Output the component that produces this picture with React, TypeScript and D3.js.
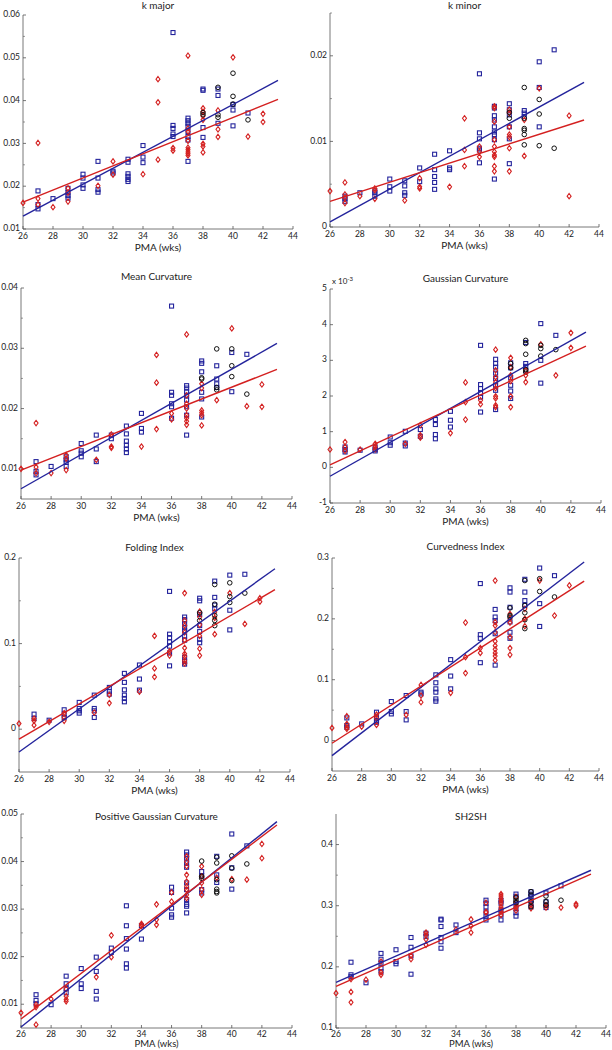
import React from 'react';
import * as d3 from 'd3';

type Group = [number, number[]];

// x axis (weeks) shared by every panel
const weekTicks = [26, 28, 30, 32, 34, 36, 38, 40, 42, 44];
const fitWeeks = [26, 43];

// ---- k major ----
const kMajorBlue: Group[] = [
  [27, [0.0189, 0.0157, 0.0147]], [28, [0.0171]], [29, [0.0195, 0.0185, 0.0178, 0.0172]],
  [30, [0.0228, 0.0219, 0.0203, 0.0195]], [31, [0.0258, 0.0219, 0.0192, 0.0186]], [32, [0.0235, 0.0231]],
  [33, [0.0263, 0.0256, 0.0229, 0.0223, 0.0216, 0.0211]], [34, [0.0295, 0.0268, 0.0255]],
  [36, [0.0559, 0.0342, 0.0335, 0.0322, 0.0316]],
  [37, [0.0359, 0.0353, 0.0347, 0.034, 0.0328, 0.0316, 0.0308, 0.0258]],
  [38, [0.0427, 0.0424, 0.0337, 0.0314]], [39, [0.0427, 0.0412, 0.0347]], [40, [0.0391, 0.0378, 0.0341]], [41, [0.0371]],
];
const kMajorRed: Group[] = [
  [26, [0.0161]], [27, [0.0301, 0.0171, 0.0157]], [28, [0.0151]], [29, [0.0195, 0.0185, 0.0164]],
  [31, [0.0201]], [32, [0.0258, 0.0227]], [34, [0.0228]], [35, [0.045, 0.0396, 0.0262]], [36, [0.0289, 0.0283]],
  [37, [0.0505, 0.0335, 0.0328, 0.0306, 0.029, 0.0285, 0.028, 0.0276, 0.0272]],
  [38, [0.0382, 0.0374, 0.0364, 0.0355, 0.0299, 0.0293, 0.0279]], [39, [0.0377, 0.0333, 0.0315]],
  [40, [0.0501]], [41, [0.0316]], [42, [0.0369, 0.035]],
];
const kMajorBlack: Group[] = [
  [38, [0.0372, 0.0367]], [39, [0.0431, 0.0367, 0.0361]], [40, [0.0464, 0.041, 0.0392]], [41, [0.0355]],
];
const kMajorBlueFit = [0.013, 0.0447];
const kMajorRedFit = [0.0163, 0.0403];

// ---- k minor ----
const kMinorBlue: Group[] = [
  [27, [0.0036, 0.0033, 0.003]], [28, [0.004]], [29, [0.0042, 0.004, 0.0036]], [30, [0.0056, 0.0047, 0.0042]],
  [31, [0.0054, 0.0048, 0.004, 0.0037]], [32, [0.0069, 0.0053]], [33, [0.0085, 0.0067, 0.0059, 0.0052, 0.0044]],
  [34, [0.0089, 0.0069, 0.0067]], [36, [0.0179, 0.011, 0.0103, 0.0092, 0.009, 0.0075]],
  [37, [0.0141, 0.0139, 0.013, 0.0125, 0.0117, 0.0111, 0.0108, 0.0102, 0.0056]],
  [38, [0.0144, 0.0137, 0.0131, 0.0117, 0.0103, 0.0074]], [39, [0.0136, 0.0133, 0.0129]],
  [40, [0.0193, 0.0163, 0.0117]], [41, [0.0207]],
];
const kMinorRed: Group[] = [
  [26, [0.0042]], [27, [0.0052, 0.0038, 0.0034, 0.0028]], [28, [0.0036]], [29, [0.0045, 0.0043, 0.0033]],
  [31, [0.0031]], [32, [0.0057, 0.0047, 0.0045]], [34, [0.0047]], [35, [0.0127, 0.009, 0.0071]],
  [36, [0.0094, 0.0088, 0.0082]],
  [37, [0.0141, 0.0139, 0.0123, 0.0102, 0.0094, 0.0088, 0.0084, 0.0082, 0.0071, 0.0065]],
  [38, [0.0137, 0.0133, 0.0117, 0.0108, 0.0105, 0.0092, 0.0065]], [39, [0.0125, 0.0083]],
  [40, [0.0162]], [42, [0.013, 0.0036]],
];
const kMinorBlack: Group[] = [
  [38, [0.0134, 0.0127]], [39, [0.0163, 0.0127, 0.0115, 0.0113, 0.0108, 0.0096]],
  [40, [0.0149, 0.0132, 0.0095]], [41, [0.0092]],
];
const kMinorBlueFit = [0.0006, 0.0169];
const kMinorRedFit = [0.003, 0.0125];

// ---- Mean Curvature ----
const meanBlue: Group[] = [
  [27, [0.0112, 0.0096, 0.009]], [28, [0.0104]], [29, [0.012, 0.0115, 0.0111, 0.0104]],
  [30, [0.0142, 0.013, 0.0126, 0.012]], [31, [0.0156, 0.0133, 0.0112]], [32, [0.0156, 0.015]],
  [33, [0.0171, 0.0158, 0.0146, 0.0139, 0.0133, 0.0127]], [34, [0.0192, 0.0167, 0.0161]],
  [36, [0.037, 0.0227, 0.0222, 0.0208, 0.0203, 0.0184]],
  [37, [0.0238, 0.0234, 0.0228, 0.0222, 0.0214, 0.0203, 0.0189, 0.0156]],
  [38, [0.0279, 0.0275, 0.0261, 0.0227, 0.0216, 0.0186]], [39, [0.0271, 0.0249, 0.0241, 0.0235]],
  [40, [0.0293, 0.0228]], [41, [0.029]],
];
const meanRed: Group[] = [
  [26, [0.01]], [27, [0.0176, 0.0103, 0.0093]], [28, [0.0093]], [29, [0.0123, 0.0117, 0.0098]],
  [31, [0.0115]], [32, [0.0157, 0.0137, 0.0135]], [34, [0.0137]], [35, [0.0289, 0.0243, 0.0166]],
  [36, [0.0192, 0.0182]], [37, [0.0323, 0.0222, 0.0208, 0.02, 0.0189, 0.0184, 0.0179, 0.0173]],
  [38, [0.0241, 0.0234, 0.0197, 0.0193, 0.0189, 0.0172]], [39, [0.0214]], [40, [0.0333]],
  [41, [0.0204]], [42, [0.024, 0.0203]],
];
const meanBlack: Group[] = [
  [38, [0.0251, 0.0249]], [39, [0.0299, 0.0235, 0.0231]], [40, [0.0299, 0.0271, 0.0253]], [41, [0.0224]],
];
const meanBlueFit = [0.0067, 0.0308];
const meanRedFit = [0.0098, 0.0265];

// ---- Gaussian Curvature (x 10^-3) ----
const gaussBlue: Group[] = [
  [27, [0.57, 0.5, 0.43]], [28, [0.48]], [29, [0.57, 0.5, 0.46]], [30, [0.85, 0.69, 0.62]],
  [31, [1.01, 0.68, 0.6]], [32, [1.06, 0.87]], [33, [1.34, 1.2, 0.92, 0.8]], [34, [1.57, 1.32, 1.13]],
  [36, [3.42, 2.32, 2.21, 2.07, 1.97, 1.55]], [37, [3.03, 2.91, 2.81, 2.64, 2.49, 2.3, 2.16, 1.62]],
  [38, [2.93, 2.79, 2.51, 2.3, 2.14, 1.93]], [39, [3.5, 2.91, 2.83, 2.72]], [40, [4.03, 3.0, 2.36]], [41, [3.7]],
];
const gaussRed: Group[] = [
  [26, [0.5]], [27, [0.71, 0.57, 0.46]], [28, [0.5]], [29, [0.66, 0.57, 0.5]], [31, [0.66]],
  [32, [1.18, 0.9, 0.83]], [34, [0.96]], [35, [2.38, 1.83, 1.34]], [36, [1.88, 1.77]],
  [37, [3.3, 2.72, 2.53, 2.39, 2.22, 1.99, 1.93, 1.74, 1.69]], [38, [3.07, 2.81, 2.58, 2.42, 1.99, 1.69]],
  [39, [2.72, 2.58, 2.39]], [40, [3.45]], [41, [2.58]], [42, [3.77, 3.35]],
];
const gaussBlack: Group[] = [
  [38, [2.91, 2.79]], [39, [3.56, 3.47, 3.17, 2.74, 2.67]], [40, [3.42, 3.33, 3.12]], [41, [3.3]],
];
const gaussBlueFit = [-0.25, 3.79];
const gaussRedFit = [0.07, 3.4];

// ---- Folding Index ----
const foldBlue: Group[] = [
  [27, [0.0176, 0.0125]], [28, [0.0105]], [29, [0.0227, 0.0176, 0.0137]], [30, [0.0313, 0.0242, 0.0215, 0.0188]],
  [31, [0.0398, 0.0242, 0.0215, 0.0137]], [32, [0.0488, 0.0438, 0.041]],
  [33, [0.0652, 0.0547, 0.046, 0.0398, 0.0359, 0.032]], [34, [0.075, 0.0586, 0.0457]],
  [36, [0.161, 0.111, 0.107, 0.102, 0.097, 0.089, 0.074]],
  [37, [0.131, 0.128, 0.123, 0.119, 0.115, 0.109, 0.104, 0.084, 0.079, 0.076]],
  [38, [0.153, 0.15, 0.134, 0.121, 0.114, 0.105, 0.101]], [39, [0.173, 0.154, 0.145, 0.141]],
  [40, [0.18, 0.139, 0.116]], [41, [0.181]],
];
const foldRed: Group[] = [
  [26, [0.0066]], [27, [0.0125, 0.0098, 0.0047]], [28, [0.0086]], [29, [0.0188, 0.0137, 0.0098]],
  [31, [0.0195]], [32, [0.04, 0.0305]], [34, [0.0438]], [35, [0.109, 0.071, 0.061]], [36, [0.091, 0.086]],
  [37, [0.159, 0.127, 0.121, 0.113, 0.104, 0.095, 0.088, 0.085, 0.08, 0.077]],
  [38, [0.1375, 0.131, 0.122, 0.109, 0.094, 0.086]], [39, [0.137, 0.13, 0.111]], [40, [0.159]],
  [41, [0.123]], [42, [0.153, 0.149]],
];
const foldBlack: Group[] = [
  [38, [0.136, 0.127]], [39, [0.169, 0.146, 0.133, 0.127, 0.121]], [40, [0.171, 0.155, 0.148]], [41, [0.159]],
];
const foldBlueFit = [-0.0266, 0.1875];
const foldRedFit = [-0.0117, 0.163];

// ---- Curvedness Index ----
const curvBlue: Group[] = [
  [27, [0.0372, 0.0246, 0.0218]], [28, [0.0274]], [29, [0.0466, 0.0383, 0.0329, 0.03]],
  [30, [0.0641, 0.0477, 0.0438]], [31, [0.074, 0.0477, 0.034]], [32, [0.0795, 0.0767]],
  [33, [0.108, 0.095, 0.085, 0.0795, 0.0685, 0.0647]], [34, [0.133, 0.106, 0.085]],
  [36, [0.258, 0.174, 0.168, 0.128]], [37, [0.2155, 0.203, 0.197, 0.1755, 0.124]],
  [38, [0.251, 0.244, 0.219, 0.195, 0.178, 0.168]], [39, [0.265, 0.244, 0.23, 0.222]],
  [40, [0.2835, 0.225, 0.1875]], [41, [0.271]],
];
const curvRed: Group[] = [
  [26, [0.0208]], [27, [0.04, 0.0274, 0.0218, 0.0191]], [28, [0.0229]], [29, [0.0427, 0.0367, 0.0257]],
  [31, [0.0422]], [32, [0.0915, 0.074, 0.063]], [34, [0.0784]], [35, [0.194, 0.137, 0.111]],
  [36, [0.152, 0.144]], [37, [0.263, 0.1945, 0.189, 0.178, 0.163, 0.156, 0.15, 0.144, 0.139, 0.132]],
  [38, [0.208, 0.2, 0.194, 0.17, 0.152, 0.141]], [39, [0.2165, 0.2, 0.188]], [40, [0.263]],
  [41, [0.2055]], [42, [0.255]],
];
const curvBlack: Group[] = [
  [38, [0.218, 0.2055, 0.203]], [39, [0.263, 0.222, 0.21, 0.1985, 0.184]], [40, [0.266, 0.245]], [41, [0.236]],
];
const curvBlueFit = [-0.0247, 0.2934];
const curvRedFit = [-0.0044, 0.262];

// ---- Positive Gaussian Curvature ----
const posBlue: Group[] = [
  [27, [0.012, 0.0108, 0.0101]], [28, [0.0099]], [29, [0.0159, 0.0143, 0.0133, 0.0124]],
  [30, [0.0175, 0.0143, 0.0133]], [31, [0.0199, 0.0169, 0.0127, 0.0111]], [32, [0.0218, 0.0209]],
  [33, [0.0307, 0.0265, 0.0238, 0.0216, 0.0185, 0.0176]], [34, [0.0265, 0.0237]],
  [36, [0.0346, 0.0335, 0.0302, 0.0288, 0.0283]],
  [37, [0.042, 0.0414, 0.0407, 0.0397, 0.0388, 0.0355, 0.0341, 0.032, 0.031, 0.0306, 0.0292]],
  [38, [0.0379, 0.037, 0.0341, 0.0334]], [39, [0.0411, 0.0372, 0.0356]], [40, [0.0458, 0.0387, 0.0342]],
  [41, [0.0433]],
];
const posRed: Group[] = [
  [26, [0.0082]], [27, [0.0099, 0.0094, 0.0057]], [28, [0.0111]], [29, [0.0132, 0.0117, 0.011, 0.0106]],
  [31, [0.0157]], [32, [0.0245, 0.0199]], [34, [0.0269, 0.0265]], [35, [0.031, 0.0278, 0.0267]],
  [36, [0.0335, 0.0316]], [37, [0.0411, 0.04, 0.039, 0.0372, 0.0358, 0.0348, 0.0341, 0.033, 0.0323]],
  [38, [0.039, 0.0369, 0.0355, 0.0341, 0.033]], [39, [0.0366]], [40, [0.0363]], [41, [0.0362]],
  [42, [0.0437, 0.0407]],
];
const posBlack: Group[] = [
  [38, [0.0401, 0.0369, 0.0365]], [39, [0.0409, 0.0397, 0.0362, 0.0342, 0.0337, 0.0334]],
  [40, [0.0412, 0.0386, 0.036]], [41, [0.0395]],
];
const posBlueFit = [0.0052, 0.0484];
const posRedFit = [0.0069, 0.0477];

// ---- SH2SH ----
const shBlue: Group[] = [
  [27, [0.2076, 0.187, 0.184]], [28, [0.174]], [29, [0.222, 0.2125, 0.206, 0.198, 0.192]],
  [30, [0.228, 0.2087, 0.205]], [31, [0.248, 0.232, 0.218, 0.188]], [32, [0.255, 0.2495]],
  [33, [0.278, 0.2767, 0.266, 0.248, 0.241, 0.2305]], [34, [0.2685, 0.256]],
  [36, [0.309, 0.304, 0.298, 0.29, 0.282, 0.2767]], [37, [0.309, 0.304, 0.293, 0.285, 0.2767]],
  [38, [0.319, 0.3147, 0.304, 0.2957, 0.2886, 0.283]], [39, [0.3228, 0.319, 0.3147, 0.309, 0.304, 0.298]],
  [40, [0.321, 0.3065, 0.301, 0.297]], [41, [0.3326]],
];
const shRed: Group[] = [
  [26, [0.157]], [27, [0.18, 0.159, 0.142]], [28, [0.179]], [29, [0.2087, 0.191, 0.187]],
  [31, [0.218, 0.2125]], [32, [0.256, 0.252, 0.245, 0.236]], [34, [0.261]], [35, [0.2777, 0.267, 0.256]],
  [36, [0.305, 0.29, 0.2886]], [37, [0.319, 0.3158, 0.312, 0.308, 0.304, 0.298, 0.294, 0.29, 0.285]],
  [38, [0.3147, 0.3065, 0.301, 0.297, 0.292]], [39, [0.301, 0.2957]], [40, [0.301, 0.297]],
  [41, [0.297]], [42, [0.3027, 0.3]],
];
const shBlack: Group[] = [
  [38, [0.3136, 0.309, 0.305]], [39, [0.323, 0.3174, 0.3065, 0.2984]], [40, [0.3158, 0.3065, 0.301]], [41, [0.309]],
];
const shBlueFit = [0.1745, 0.358];
const shRedFit = [0.168, 0.3516];

// y tick labels
const kMajorTicks = ['0.01', '0.02', '0.03', '0.04', '0.05', '0.06'];
const kMinorTicks = ['0', '0.01', '0.02'];
const meanTicks = ['0.01', '0.02', '0.03', '0.04'];
const gaussTicks = ['-1', '0', '1', '2', '3', '4', '5'];
const foldTicks = ['0', '0.1', '0.2'];
const curvTicks = ['0', '0.1', '0.2', '0.3'];
const posTicks = ['0.01', '0.02', '0.03', '0.04', '0.05'];
const shTicks = ['0.1', '0.2', '0.3', '0.4'];

const BLUE = '#24249c';
const RED = '#d42020';
const BLACK = '#111111';
const AXIS = '#555555';
const FONT = 'Lato, "Open Sans", sans-serif';

const flat = (g: Group[]) => g.flatMap(([w, vs]) => vs.map((v) => [w, v] as [number, number]));

type PanelProps = {
  title: string;
  l: number; r: number; t: number; b: number;
  domain: [number, number];
  ticks: string[];
  minor: number[];
  titleY: number;
  blue: Group[]; red: Group[]; black: Group[];
  blueFit: number[]; redFit: number[];
  exponent?: boolean;
};

function Panel(p: PanelProps) {
  const x = d3.scaleLinear().domain([26, 44]).range([p.l, p.r]);
  const y = d3.scaleLinear().domain(p.domain).range([p.b, p.t]);
  const line = d3.line<[number, number]>().x((d) => x(d[0])).y((d) => y(d[1]));
  const fitPts = (f: number[]) => fitWeeks.map((w, i) => [w, f[i]] as [number, number]);
  const bottomRow = p.b > 1000;
  const tickY = p.b + (bottomRow ? 6.5 : 8);
  const xlabY = bottomRow ? 1044.5 : p.b + 19;
  return (
    <g>
      <text x={(p.l + p.r) / 2} y={p.titleY} textAnchor="middle" dominantBaseline="middle" fontSize={10} fill="#222">{p.title}</text>
      {p.exponent && (
        <text x={p.l + 2} y={p.t - 5} fontSize={8} fill="#222">x 10<tspan dy={-3} fontSize={6}>-3</tspan></text>
      )}
      <line x1={p.l} x2={p.l} y1={p.t} y2={p.b} stroke={AXIS} strokeWidth={0.8} />
      <line x1={p.l} x2={p.r} y1={p.b} y2={p.b} stroke={AXIS} strokeWidth={0.8} />
      {p.ticks.map((s) => (
        <g key={s}>
          <line x1={p.l} x2={p.l + 3} y1={y(+s)} y2={y(+s)} stroke={AXIS} strokeWidth={0.8} />
          <text x={p.l - 3} y={y(+s)} textAnchor="end" dominantBaseline="middle" fontSize={8.5} fill="#222">{s}</text>
        </g>
      ))}
      {p.minor.map((v) => (
        <line key={v} x1={p.l} x2={p.l + 2} y1={y(v)} y2={y(v)} stroke={AXIS} strokeWidth={0.6} />
      ))}
      {weekTicks.map((w) => (
        <g key={w}>
          <line x1={x(w)} x2={x(w)} y1={p.b} y2={p.b - 3} stroke={AXIS} strokeWidth={0.8} />
          <text x={x(w)} y={tickY} textAnchor="middle" dominantBaseline="middle" fontSize={8.5} fill="#222">{w}</text>
        </g>
      ))}
      <text x={(p.l + p.r) / 2} y={xlabY} textAnchor="middle" dominantBaseline="middle" fontSize={bottomRow ? 9.5 : 10} fill="#222">PMA (wks)</text>
      {flat(p.blue).map(([w, v], i) => (
        <rect key={'b' + i} x={x(w) - 2} y={y(v) - 2} width={4} height={4} fill="none" stroke={BLUE} strokeWidth={1.1} />
      ))}
      {flat(p.red).map(([w, v], i) => (
        <path key={'r' + i} d={`M${x(w)},${y(v) - 2.7}L${x(w) + 2},${y(v)}L${x(w)},${y(v) + 2.7}L${x(w) - 2},${y(v)}Z`} fill="none" stroke={RED} strokeWidth={1.1} />
      ))}
      {flat(p.black).map(([w, v], i) => (
        <circle key={'k' + i} cx={x(w)} cy={y(v)} r={2.3} fill="none" stroke={BLACK} strokeWidth={1} />
      ))}
      <path d={line(fitPts(p.blueFit)) || ''} stroke={BLUE} strokeWidth={1.4} fill="none" />
      <path d={line(fitPts(p.redFit)) || ''} stroke={RED} strokeWidth={1.4} fill="none" />
    </g>
  );
}

export default function App() {
  const panels: PanelProps[] = [
    { title: 'k major', l: 23, r: 293, t: 15, b: 229, domain: [0.01, 0.06], ticks: kMajorTicks, minor: [0.015, 0.025, 0.035, 0.045, 0.055], titleY: 6, blue: kMajorBlue, red: kMajorRed, black: kMajorBlack, blueFit: kMajorBlueFit, redFit: kMajorRedFit },
    { title: 'k minor', l: 330, r: 599, t: 13, b: 227, domain: [0, 0.025], ticks: kMinorTicks, minor: [0.005, 0.015, 0.025], titleY: 6, blue: kMinorBlue, red: kMinorRed, black: kMinorBlack, blueFit: kMinorBlueFit, redFit: kMinorRedFit },
    { title: 'Mean Curvature', l: 21, r: 292, t: 288, b: 499, domain: [0.005, 0.04], ticks: meanTicks, minor: [0.015, 0.025, 0.035], titleY: 277, blue: meanBlue, red: meanRed, black: meanBlack, blueFit: meanBlueFit, redFit: meanRedFit },
    { title: 'Gaussian Curvature', l: 330, r: 601, t: 289, b: 503, domain: [-1, 5], ticks: gaussTicks, minor: [], titleY: 279, blue: gaussBlue, red: gaussRed, black: gaussBlack, blueFit: gaussBlueFit, redFit: gaussRedFit, exponent: true },
    { title: 'Folding Index', l: 19, r: 290, t: 558, b: 772, domain: [-0.05, 0.2], ticks: foldTicks, minor: [0.05, 0.15], titleY: 548, blue: foldBlue, red: foldRed, black: foldBlack, blueFit: foldBlueFit, redFit: foldRedFit },
    { title: 'Curvedness Index', l: 332, r: 599, t: 558, b: 771, domain: [-0.05, 0.3], ticks: curvTicks, minor: [0.05, 0.15, 0.25], titleY: 547, blue: curvBlue, red: curvRed, black: curvBlack, blueFit: curvBlueFit, redFit: curvRedFit },
    { title: 'Positive Gaussian Curvature', l: 21, r: 292, t: 814, b: 1028, domain: [0.005, 0.05], ticks: posTicks, minor: [0.015, 0.025, 0.035, 0.045], titleY: 817, blue: posBlue, red: posRed, black: posBlack, blueFit: posBlueFit, redFit: posRedFit },
    { title: 'SH2SH', l: 336, r: 606, t: 814, b: 1028, domain: [0.1, 0.45], ticks: shTicks, minor: [0.15, 0.25, 0.35], titleY: 817, blue: shBlue, red: shRed, black: shBlack, blueFit: shBlueFit, redFit: shRedFit },
  ];
  return (
    <svg width={612} height={1050} style={{ position: 'absolute', left: 0, top: 0, background: '#fff' }} fontFamily={FONT}>
      <rect width={612} height={1050} fill="#fff" />
      {panels.map((p) => <Panel key={p.title} {...p} />)}
    </svg>
  );
}
